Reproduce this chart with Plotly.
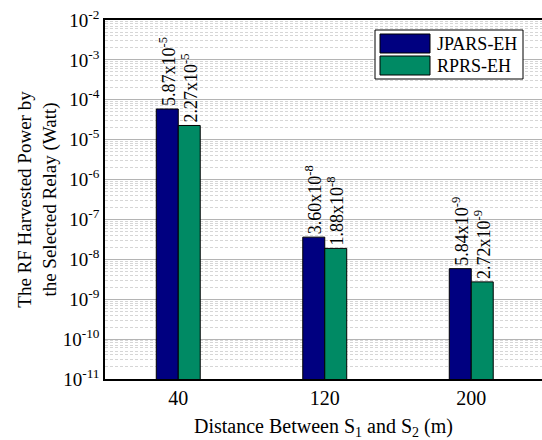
import plotly.graph_objects as go

# Distances between S1 and S2 (m)
distances = ["40", "120", "200"]
# Harvested RF power at the selected relay (W)
jpars_eh = [5.87e-5, 3.60e-8, 5.84e-9]
rprs_eh = [2.27e-5, 1.88e-8, 2.72e-9]
# y-axis decades (powers of ten)
decades = list(range(-11, -1))

FONT = "Liberation Serif, Times New Roman, serif"
BLUE = "#000080"
GREEN = "#008a64"


def sci_label(v):
    mant, exp = f"{v:.2e}".split("e")
    return f"{mant}x10<sup>{int(exp)}</sup>"


fig = go.Figure()
for name, vals, color in [("JPARS-EH", jpars_eh, BLUE), ("RPRS-EH", rprs_eh, GREEN)]:
    fig.add_trace(go.Bar(
        x=distances, y=vals, name=name,
        marker=dict(color=color, line=dict(color="black", width=1)),
        text=[sci_label(v) for v in vals],
        textposition="outside", textangle=-90, constraintext="none",
        textfont=dict(family=FONT, size=18, color="black"),
        cliponaxis=False,
    ))

fig.update_layout(
    width=542, height=440,
    margin=dict(l=105, r=0, t=20, b=61),
    paper_bgcolor="white", plot_bgcolor="white",
    barmode="group", bargap=0.70, bargroupgap=0,
    showlegend=False,
    font=dict(family=FONT, size=19, color="black"),
)

fig.update_xaxes(
    type="category", range=[-0.5, 2.483],
    showline=True, linecolor="black", linewidth=1.5, mirror=True,
    showgrid=False, ticks="", tickfont=dict(size=20),
    title=dict(text="Distance Between S<sub>1</sub> and S<sub>2</sub> (m)",
               font=dict(size=20), standoff=11),
)

# minor grid at 2..9 within every decade
minor_vals = [m * 10.0 ** d for d in decades[:-1] for m in range(2, 10)]

fig.update_yaxes(
    type="log", range=[-11, -2],
    tickmode="array",
    tickvals=[10.0 ** d for d in decades],
    ticktext=[f"10<sup>{d}</sup>" for d in decades],
    tickfont=dict(size=19),
    showline=True, linecolor="black", linewidth=1.5,
    showgrid=True, gridcolor="#b4b4b4", gridwidth=1,
    ticks="", zeroline=False,
    minor=dict(tickmode="array", tickvals=minor_vals, showgrid=True,
               gridcolor="#d6d6d6", griddash="3px,2px", gridwidth=1, ticks=""),
    title=dict(text="The RF Harvested Power by<br>the Selected Relay (Watt)",
               font=dict(size=19), standoff=1),
)

# Legend box drawn in paper coordinates
px_w, px_h = 542 - 105, 440 - 20 - 61


def px_x(x):
    return (x - 105) / px_w


def px_y(y):
    return 1 - (y - 20) / px_h


fig.add_shape(type="rect", xref="paper", yref="paper",
              x0=px_x(375), x1=px_x(523), y0=px_y(79), y1=px_y(30),
              line=dict(color="black", width=1), fillcolor="white", layer="above")
for i, (label, color) in enumerate([("JPARS-EH", BLUE), ("RPRS-EH", GREEN)]):
    top = 34 + i * 22
    fig.add_shape(type="rect", xref="paper", yref="paper",
                  x0=px_x(380), x1=px_x(430), y0=px_y(top + 19), y1=px_y(top),
                  line=dict(color="black", width=1), fillcolor=color, layer="above")
    fig.add_annotation(xref="paper", yref="paper", x=px_x(435), y=px_y(top + 10),
                       text=label, showarrow=False, xanchor="left", yanchor="middle",
                       font=dict(family=FONT, size=18, color="black"))

fig.write_html("out.html")
